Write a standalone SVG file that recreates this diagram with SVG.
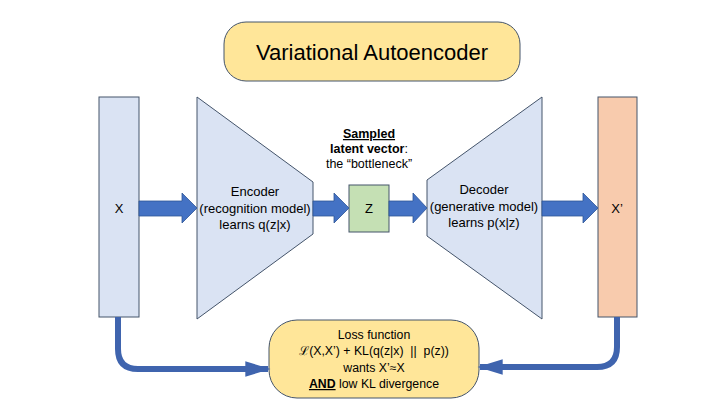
<svg xmlns="http://www.w3.org/2000/svg" width="720" height="405" viewBox="0 0 720 405">
<defs>
<style>
.t{font-family:"Liberation Sans","Open Sans",sans-serif;fill:#000;text-anchor:middle}
.n{fill:#DAE3F3;stroke:#44546A;stroke-width:1}
.ba{fill:#4472C4;stroke:#2F5597;stroke-width:0.8}
.ln{fill:none;stroke:#3F64AE;stroke-width:6}
</style>
<marker id="ah" viewBox="0 0 10 10" refX="9" refY="5" markerWidth="4.2" markerHeight="2.6" markerUnits="strokeWidth" orient="auto" preserveAspectRatio="none">
<path d="M0,0 L10,5 L0,10 Z" fill="#3F64AE"/>
</marker>
</defs>
<rect width="720" height="405" fill="#fff"/>
<g id="title">
<rect x="224" y="22" width="296" height="59" rx="22" fill="#FFE699" stroke="#44546A" stroke-width="1"/>
<text class="t" x="372" y="60" font-size="22">Variational Autoencoder</text>
</g>
<g id="x">
<rect class="n" x="99" y="97" width="40" height="220"/>
<text class="t" x="119" y="213" font-size="13">X</text>
</g>
<g id="encoder">
<path class="n" d="M197,97 L313,182 L313,234 L197,319 Z"/>
<text class="t" x="255" y="196" font-size="13">Encoder</text>
<text class="t" x="255" y="213" font-size="13">(recognition model)</text>
<text class="t" x="255" y="229" font-size="13">learns q(z|x)</text>
</g>
<g id="latent-label">
<text class="t" x="369" y="138" font-size="12.5" font-weight="bold" text-decoration="underline">Sampled</text>
<text class="t" x="369" y="153" font-size="12.5"><tspan font-weight="bold">latent vector</tspan>:</text>
<text class="t" x="369" y="168" font-size="12.5">the “bottleneck”</text>
</g>
<g id="z">
<rect x="349" y="185" width="40" height="47" fill="#C5E0B4" stroke="#44546A" stroke-width="1"/>
<text class="t" x="369" y="213" font-size="13">Z</text>
</g>
<g id="decoder">
<path class="n" d="M427,180 L542,97 L542,319 L427,236 Z"/>
<text class="t" x="484" y="194" font-size="13">Decoder</text>
<text class="t" x="484" y="211" font-size="13">(generative model)</text>
<text class="t" x="484" y="227" font-size="13">learns p(x|z)</text>
</g>
<g id="xprime">
<rect x="598" y="97" width="39" height="220" fill="#F8CBAD" stroke="#44546A" stroke-width="1"/>
<text class="t" x="617" y="213" font-size="13">X’</text>
</g>
<g id="loss">
<rect x="269" y="320" width="210" height="78" rx="28" fill="#FFE699" stroke="#44546A" stroke-width="1"/>
<text class="t" x="374" y="339" font-size="12.3">Loss function</text>
<text class="t" x="374" y="355" font-size="12.3">ℒ(X,X’) + KL(q(z|x)&#160; ||&#160; p(z))</text>
<text class="t" x="374" y="372" font-size="12.3">wants X’≈X</text>
<text class="t" x="374" y="388" font-size="12.3"><tspan font-weight="bold" text-decoration="underline">AND</tspan> low KL divergence</text>
</g>
<g id="connectors">
<path class="ba" d="M139,201 L182,201 L182,193 L197,208 L182,223 L182,216 L139,216 Z"/>
<path class="ba" d="M313,201 L334,201 L334,193 L349,208 L334,223 L334,216 L313,216 Z"/>
<path class="ba" d="M389,201 L413,201 L413,193 L427,208 L413,223 L413,216 L389,216 Z"/>
<path class="ba" d="M542,201 L583,201 L583,193 L598,208 L583,223 L583,216 L542,216 Z"/>
<path class="ln" d="M118,317 L118,349 Q118,369 138,369 L268,369" marker-end="url(#ah)"/>
<path class="ln" d="M617,317 L617,347 Q617,367 597,367 L480,367" marker-end="url(#ah)"/>
</g>
</svg>
